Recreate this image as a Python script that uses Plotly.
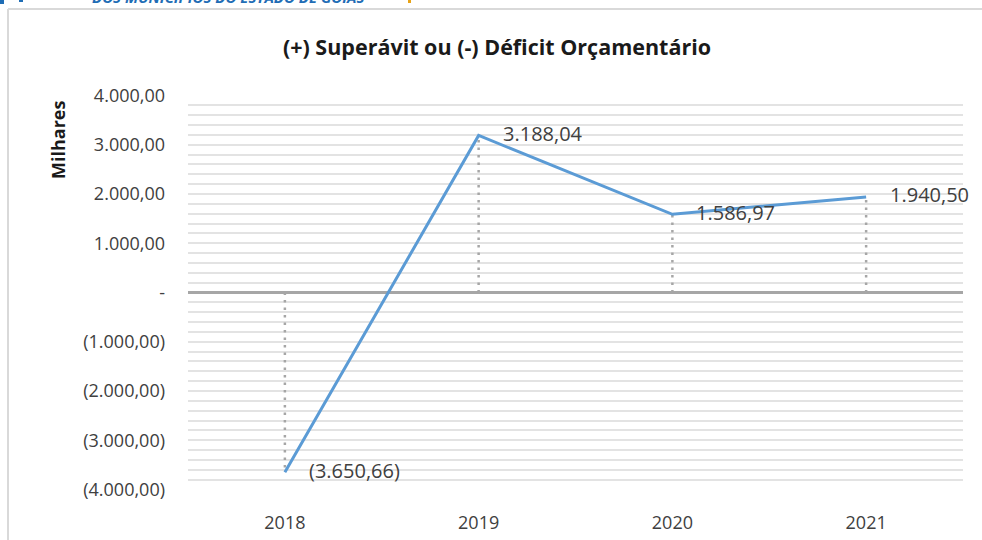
import plotly.graph_objects as go

# ---- data ----
years = ["2018", "2019", "2020", "2021"]
values = [-3650.66, 3188.04, 1586.97, 1940.50]
y_tickvals = [4000, 3000, 2000, 1000, 0, -1000, -2000, -3000, -4000]
y_ticktext = ["4.000,00", "3.000,00", "2.000,00", "1.000,00", "-",
              "(1.000,00)", "(2.000,00)", "(3.000,00)", "(4.000,00)"]
title_text = "(+) Superávit ou (-) Déficit Orçamentário"
unit_label = "Milhares"
header_text = "DOS MUNICÍPIOS DO ESTADO DE GOIÁS"


def fmt_br(v):
    s = f"{abs(v):,.2f}".replace(",", "X").replace(".", ",").replace("X", ".")
    return f"({s})" if v < 0 else s


FONT = "Open Sans"
TXT = "#404040"

# plot-area geometry in pixels (for paper conversions)
L, R, T, B = 188, 963, 95, 490
W, H = R - L, B - T


def px_x(p):
    return (p - L) / W


def px_y(p):
    return (B - p) / H


fig = go.Figure()

# drop lines (dotted) from each point to zero
for yr, v in zip(years, values):
    fig.add_trace(go.Scatter(
        x=[yr, yr], y=[0, v], mode="lines",
        line=dict(color="#A6A6A6", width=2.5, dash="2.5px,5px"),
        hoverinfo="skip", showlegend=False))

# main line
fig.add_trace(go.Scatter(
    x=years, y=values, mode="lines",
    line=dict(color="#5B9BD5", width=3),
    showlegend=False))

annotations = []
for i, v in enumerate(values):
    annotations.append(dict(
        x=i, y=v, xref="x", yref="y", text=fmt_br(v), showarrow=False,
        xanchor="left", yanchor="middle", xshift=22, yshift=2,
        font=dict(family=FONT, size=20, color=TXT)))

annotations.append(dict(
    x=px_x(58), y=px_y(140), xref="paper", yref="paper", text=f"<b>{unit_label}</b>",
    textangle=-90, showarrow=False, xanchor="center", yanchor="middle",
    font=dict(family=FONT, size=18, color="#1a1a1a")))

annotations.append(dict(
    x=px_x(228), y=px_y(9), xref="paper", yref="paper",
    text=f"<b><i>{header_text}</i></b>", showarrow=False,
    xanchor="center", yanchor="bottom",
    font=dict(family=FONT, size=15, color="#1F6DB5")))

shapes = [
    # chart frame (left and top)
    dict(type="line", xref="paper", yref="paper",
         x0=px_x(8), x1=px_x(8), y0=px_y(9), y1=px_y(560),
         line=dict(color="#D9D9D9", width=2)),
    dict(type="line", xref="paper", yref="paper",
         x0=px_x(8), x1=px_x(990), y0=px_y(9), y1=px_y(9),
         line=dict(color="#D9D9D9", width=2)),
    # header decorations
    dict(type="rect", xref="paper", yref="paper",
         x0=px_x(0), x1=px_x(4), y0=px_y(4), y1=px_y(-2),
         fillcolor="#1F6DB5", line=dict(width=0)),
    dict(type="rect", xref="paper", yref="paper",
         x0=px_x(19), x1=px_x(23), y0=px_y(2), y1=px_y(-2),
         fillcolor="#1F6DB5", line=dict(width=0)),
    dict(type="rect", xref="paper", yref="paper",
         x0=px_x(408), x1=px_x(411), y0=px_y(3), y1=px_y(-2),
         fillcolor="#E8A317", line=dict(width=0)),
]

fig.update_layout(
    width=982, height=540,
    margin=dict(l=L, r=982 - R, t=T, b=540 - B, pad=0),
    paper_bgcolor="white", plot_bgcolor="white",
    title=dict(text=f"<b>{title_text}</b>", x=(497) / 982, xanchor="center",
               y=1 - 47 / 540, yanchor="middle", automargin=False,
               font=dict(family=FONT, size=21.5, color="#1a1a1a")),
    xaxis=dict(type="category", range=[-0.5, 3.5], showgrid=False,
               showline=False, zeroline=False, ticks="", automargin=False,
               ticklabelstandoff=20,
               tickfont=dict(family=FONT, size=18, color=TXT)),
    yaxis=dict(range=[-4010, 4010], tickmode="array", tickvals=y_tickvals,
               ticktext=y_ticktext, showgrid=True, gridcolor="#E3E3E3",
               gridwidth=1.5, zeroline=True, zerolinecolor="#A6A6A6",
               zerolinewidth=3, showline=False, ticks="", automargin=False,
               ticklabelstandoff=22,
               minor=dict(tickmode="linear", tick0=0, dtick=200, showgrid=True,
                          gridcolor="#E3E3E3", gridwidth=1.5, ticks=""),
               tickfont=dict(family=FONT, size=18, color=TXT)),
    annotations=annotations,
    shapes=shapes,
)

fig.write_html(
    "out.html",
    config={"displayModeBar": False},
    post_script="document.body.style.margin='0';document.body.style.overflow='hidden';",
)
